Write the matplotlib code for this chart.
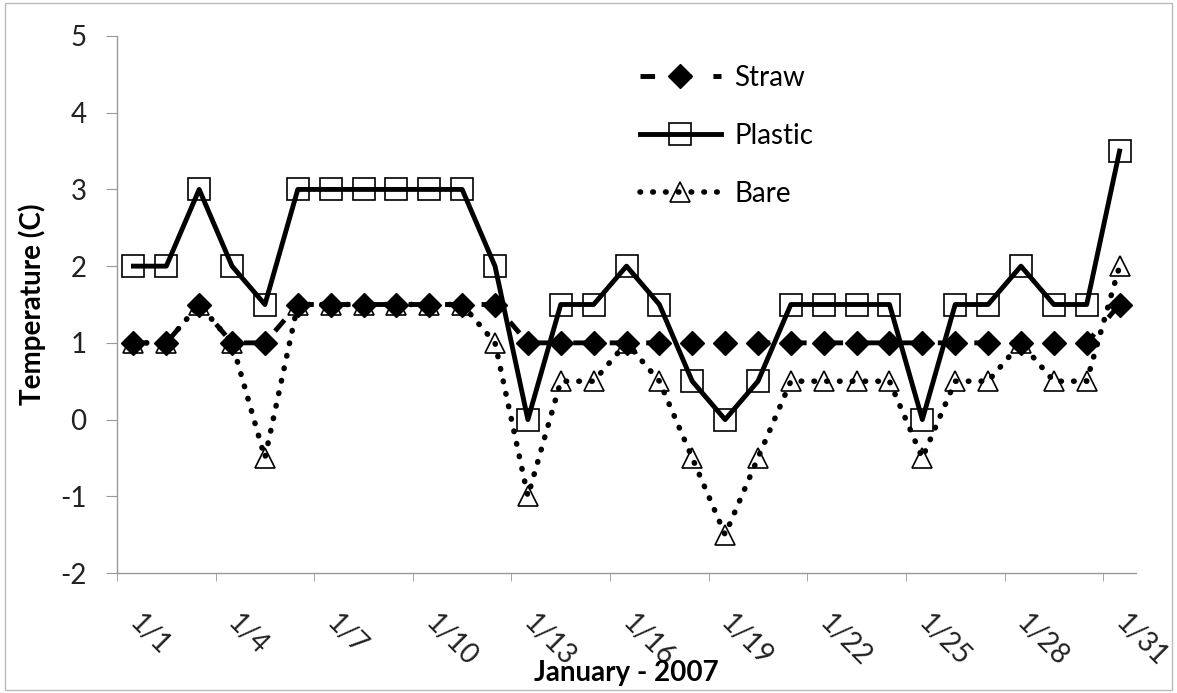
import matplotlib
matplotlib.use("Agg")
import matplotlib.pyplot as plt
from matplotlib.patches import Rectangle

# January 2007, one reading per day
days = list(range(1, 32))
tick_days = [1, 4, 7, 10, 13, 16, 19, 22, 25, 28, 31]
tick_labels = ["1/1", "1/4", "1/7", "1/10", "1/13", "1/16", "1/19",
               "1/22", "1/25", "1/28", "1/31"]

straw = [1, 1, 1.5, 1, 1, 1.5, 1.5, 1.5, 1.5, 1.5, 1.5, 1.5, 1, 1, 1, 1,
         1, 1, 1, 1, 1, 1, 1, 1, 1, 1, 1, 1, 1, 1, 1.5]
plastic = [2, 2, 3, 2, 1.5, 3, 3, 3, 3, 3, 3, 2, 0, 1.5, 1.5, 2,
           1.5, 0.5, 0, 0.5, 1.5, 1.5, 1.5, 1.5, 0, 1.5, 1.5, 2, 1.5, 1.5, 3.5]
bare = [1, 1, 1.5, 1, -0.5, 1.5, 1.5, 1.5, 1.5, 1.5, 1.5, 1, -1, 0.5, 0.5, 1,
        0.5, -0.5, -1.5, -0.5, 0.5, 0.5, 0.5, 0.5, -0.5, 0.5, 0.5, 1, 0.5, 0.5, 2]

plt.rcParams["font.family"] = ["Lato", "DejaVu Sans"]
plt.rcParams["axes.unicode_minus"] = False

W, H = 1177, 693
fig = plt.figure(figsize=(W / 100, H / 100), dpi=100)
ax = fig.add_axes([117 / W, 120 / H, 1019 / W, 537 / H])

ax.plot(days, straw, color="black", lw=3.5, linestyle=(0, (3, 4.5)),
        marker="D", ms=12, mfc="black", mec="black", label="Straw")
ax.plot(days, plastic, color="black", lw=3.5, marker="s", ms=16,
        mfc="none", mec="black", mew=1.2, label="Plastic")
ax.plot(days, bare, color="black", lw=4, linestyle=(0, (0.1, 2.2)),
        dash_capstyle="round", marker="^", ms=15, mfc="none", mec="black",
        mew=1.2, label="Bare")

ax.set_xlim(0.5, 31.5)
ax.set_ylim(-2, 5)
ax.set_yticks(range(-2, 6))

# labels sit on the days, tick marks between days
ax.set_xticks(tick_days)
ax.set_xticklabels(tick_labels, rotation=-45, ha="left", va="center",
                   rotation_mode="anchor")
ax.set_xticks([d - 0.5 for d in tick_days], minor=True)
ax.tick_params(axis="x", which="major", length=0, pad=33, labelsize=20,
               labelcolor="#222222")
ax.tick_params(axis="x", which="minor", length=6, color="#999999")
ax.tick_params(axis="y", length=8, color="#999999", pad=14, labelsize=20,
               labelcolor="#222222")

for side in ["top", "right"]:
    ax.spines[side].set_visible(False)
for side in ["left", "bottom"]:
    ax.spines[side].set_color("#999999")
    ax.spines[side].set_linewidth(1)

ax.set_ylabel("Temperature (C)", fontsize=20, fontweight="bold")
ax.yaxis.set_label_coords(-0.083, 0.5)
ax.yaxis.label.set_va("center")
ax.set_xlabel("January - 2007", fontsize=20, fontweight="bold")
ax.xaxis.set_label_coords(0.5, -0.186)
ax.xaxis.label.set_va("center")

ax.legend(loc="upper left", bbox_to_anchor=(640 / W, 1 - 65 / H),
          bbox_transform=fig.transFigure, frameon=False, fontsize=20,
          handlelength=2.9, handletextpad=0.5, labelspacing=1.15,
          borderpad=0, borderaxespad=0)

# thin grey frame round the whole chart
fig.patches.append(Rectangle((0.004, 0.004), 0.992, 0.992,
                             transform=fig.transFigure, fill=False,
                             edgecolor="#bbbbbb", lw=1))

fig.savefig("out.png", dpi=100)
